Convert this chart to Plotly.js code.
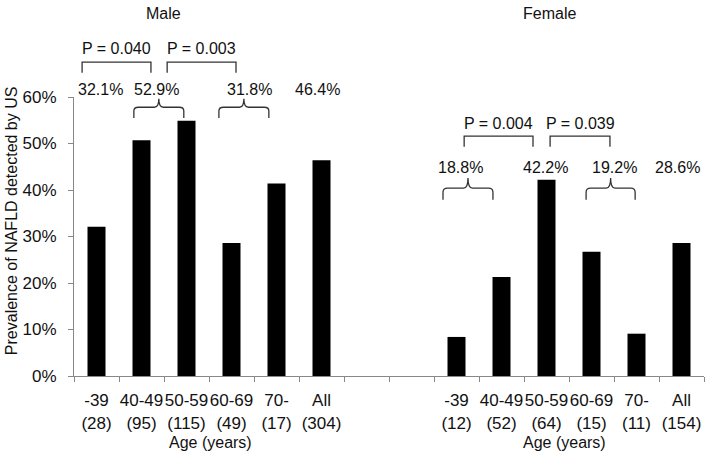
<!DOCTYPE html>
<html>
<head>
<meta charset="utf-8">
<script src="https://cdn.plot.ly/plotly-3.0.1.min.js"></script>
<style>html,body{margin:0;padding:0;background:#fff;}#chart{width:709px;height:454px;}</style>
</head>
<body>
<div id="chart"></div>
<script>
// Categories (male 6, two blank spacers, female 6)
const categories = ["-39<br>(28)", "40-49<br>(95)", "50-59<br>(115)", "60-69<br>(49)", "70-<br>(17)", "All<br>(304)",
  " ", "  ",
  "-39<br>(12)", "40-49<br>(52)", "50-59<br>(64)", "60-69<br>(15)", "70-<br>(11)", "All<br>(154)"];
// Prevalence values (fraction)
const prevalence = [0.321, 0.507, 0.549, 0.286, 0.414, 0.464,
  null, null,
  0.084, 0.213, 0.422, 0.267, 0.091, 0.286];

// Group labels
const groupNames = ["Male", "Female"];
const groupCenters = [1.48, 10.06];
const axisTitleX = ["Age (years)", "Age (years)"];
const axisTitleCenters = [2.54, 10.39];

// Combined-group percent labels: [x index, y value, text]
const pctLabels = [
  [0.08, 0.617, "32.1%"], [1.34, 0.617, "52.9%"], [3.39, 0.617, "31.8%"], [4.9, 0.617, "46.4%"],
  [8.08, 0.448, "18.8%"], [9.97, 0.448, "42.2%"], [11.5, 0.448, "19.2%"], [12.9, 0.448, "28.6%"]
];
// P-value brackets: [x0, x1, y top, y bottom, text y, text]
const pBrackets = [
  [-0.32, 1.21, 0.675, 0.652, 0.705, "P = 0.040"],
  [1.57, 3.10, 0.675, 0.652, 0.705, "P = 0.003"],
  [8.17, 9.70, 0.516, 0.493, 0.544, "P = 0.004"],
  [10.08, 11.41, 0.516, 0.493, 0.544, "P = 0.039"]
];
// Curly braces: [x0, x1, y stem top, y mid, y ends]
const braces = [
  [0.83, 1.94, 0.596, 0.578, 0.555],
  [2.72, 3.83, 0.596, 0.578, 0.555],
  [7.70, 8.81, 0.426, 0.404, 0.379],
  [10.88, 11.97, 0.426, 0.404, 0.379]
];

const yMax = 0.6;
const toPaper = v => v / yMax;
const FONT = "Liberation Sans, Arial, sans-serif";
const txt = {family: FONT, size: 16, color: "#111"};
const tickTxt = {family: FONT, size: 17, color: "#111"};

const shapes = [];
const annotations = [];
const lineStyle = {color: "#333", width: 1.3};

pBrackets.forEach(b => {
  const [x0, x1, yt, yb, ty, t] = b;
  shapes.push({type: "path", xref: "x", yref: "paper",
    path: `M ${x0} ${toPaper(yb)} L ${x0} ${toPaper(yt)} L ${x1} ${toPaper(yt)} L ${x1} ${toPaper(yb)}`,
    line: lineStyle});
  annotations.push({xref: "x", yref: "paper", x: (x0 + x1) / 2, y: toPaper(ty), text: t,
    showarrow: false, font: txt, xanchor: "center", yanchor: "middle"});
});

braces.forEach(b => {
  const [x0, x1, yt, ym, ye] = b;
  const xm = (x0 + x1) / 2;
  const r = 0.1;
  const pt = toPaper(yt), pm = toPaper(ym), pe = toPaper(ye);
  const dy = (pm - pe) * 0.35;
  shapes.push({type: "path", xref: "x", yref: "paper",
    path: `M ${x0} ${pe} L ${x0} ${pm - dy} Q ${x0} ${pm} ${x0 + r} ${pm} L ${xm - r} ${pm} Q ${xm} ${pm} ${xm} ${pt} Q ${xm} ${pm} ${xm + r} ${pm} L ${x1 - r} ${pm} Q ${x1} ${pm} ${x1} ${pm - dy} L ${x1} ${pe}`,
    line: lineStyle});
});

pctLabels.forEach(p => {
  annotations.push({xref: "x", yref: "paper", x: p[0], y: toPaper(p[1]), text: p[2],
    showarrow: false, font: txt, xanchor: "center", yanchor: "middle"});
});

groupNames.forEach((g, i) => {
  annotations.push({xref: "x", yref: "paper", x: groupCenters[i], y: 1.30, text: g,
    showarrow: false, font: txt, xanchor: "center", yanchor: "middle"});
});
axisTitleX.forEach((g, i) => {
  annotations.push({xref: "x", yref: "paper", x: axisTitleCenters[i], y: -0.24, text: g,
    showarrow: false, font: txt, xanchor: "center", yanchor: "middle"});
});
annotations.push({xref: "paper", yref: "paper", x: -0.098, y: 0.556, textangle: -90,
  text: "Prevalence of NAFLD detected by US", showarrow: false, font: txt,
  xanchor: "center", yanchor: "middle"});

const data = [{
  type: "bar",
  x: categories,
  y: prevalence,
  width: 0.4,
  marker: {color: "#000", line: {width: 0}},
  hoverinfo: "none"
}];

const layout = {
  width: 709, height: 454,
  margin: {l: 74, r: 5, t: 97, b: 78},
  paper_bgcolor: "#fff", plot_bgcolor: "#fff",
  showlegend: false,
  font: txt,
  xaxis: {
    type: "category",
    categoryorder: "array", categoryarray: categories,
    range: [-0.5, 13.5],
    tickson: "boundaries",
    ticks: "outside", ticklen: 5, tickcolor: "#888", tickwidth: 1,
    showline: true, linecolor: "#888", linewidth: 1,
    showgrid: false, zeroline: false,
    tickfont: tickTxt, tickangle: 0,
    ticklabelstandoff: 9,
    fixedrange: true
  },
  yaxis: {
    range: [0, yMax],
    tickvals: [0, 0.1, 0.2, 0.3, 0.4, 0.5, 0.6],
    tickformat: ".0%",
    ticks: "outside", ticklen: 5, tickcolor: "#888",
    showline: true, linecolor: "#888", linewidth: 1,
    showgrid: false, zeroline: false,
    tickfont: tickTxt,
    ticklabelstandoff: 8,
    fixedrange: true
  },
  shapes: shapes,
  annotations: annotations
};

Plotly.newPlot("chart", data, layout, {staticPlot: true});
</script>
</body>
</html>
